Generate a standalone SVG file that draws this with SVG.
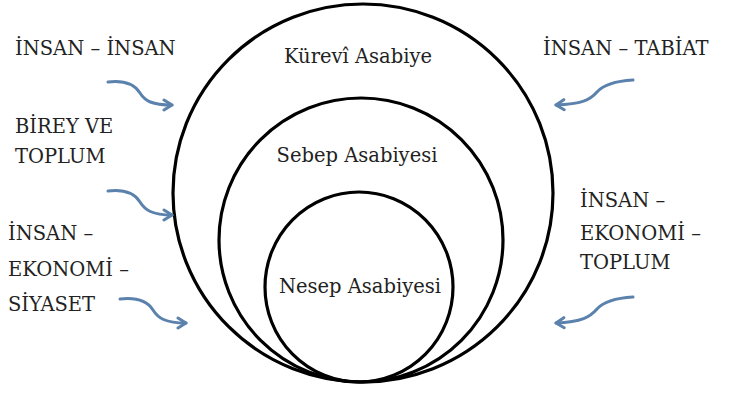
<svg xmlns="http://www.w3.org/2000/svg" width="734" height="394" viewBox="0 0 734 394">
<style>
  .t { font-family: "DejaVu Serif", serif; font-size: 19.5px; fill: #222; }
</style>
<defs>
  <marker id="head" markerUnits="userSpaceOnUse" markerWidth="14" markerHeight="14" refX="10" refY="7" orient="auto">
    <path d="M2,2 L10,7 L2,12" fill="none" stroke="#5b82ad" stroke-width="3" stroke-linecap="round" stroke-linejoin="round"/>
  </marker>
</defs>
<rect width="734" height="394" fill="#fff"/>

<g id="kurevi">
  <ellipse cx="363" cy="193" rx="190" ry="189" fill="none" stroke="#000" stroke-width="3.2"/>
  <text class="t" x="358" y="63" text-anchor="middle">Kürevî Asabiye</text>
</g>
<g id="sebep">
  <ellipse cx="361" cy="240" rx="142" ry="142" fill="none" stroke="#000" stroke-width="3.2"/>
  <text class="t" x="357" y="162" text-anchor="middle">Sebep Asabiyesi</text>
</g>
<g id="nesep">
  <ellipse cx="359" cy="287" rx="94" ry="95" fill="none" stroke="#000" stroke-width="3.2"/>
  <text class="t" x="360" y="293" text-anchor="middle">Nesep Asabiyesi</text>
</g>
<g id="insan-insan"><text class="t" x="15" y="55">İNSAN – İNSAN</text></g>
<g id="birey-toplum"><text class="t" x="15" y="133">BİREY VE</text><text class="t" x="15" y="163">TOPLUM</text></g>
<g id="insan-ekonomi-siyaset"><text class="t" x="8" y="240">İNSAN –</text><text class="t" x="8" y="276">EKONOMİ –</text><text class="t" x="8" y="311">SİYASET</text></g>
<g id="insan-tabiat"><text class="t" x="543" y="55">İNSAN – TABİAT</text></g>
<g id="insan-ekonomi-toplum"><text class="t" x="580" y="207">İNSAN –</text><text class="t" x="580" y="240">EKONOMİ –</text><text class="t" x="580" y="269">TOPLUM</text></g>

<g id="connectors" fill="none" stroke="#5b82ad" stroke-width="3" stroke-linecap="round">
  <path marker-end="url(#head)" d="M108,82 C125,80 135,85 140,93 S152,105 172,105"/>
  <path marker-end="url(#head)" d="M108,191 C125,189 135,194 140,202 S152,215 172,215"/>
  <path marker-end="url(#head)" d="M120,299 C138,297 148,302 153,310 S165,323 186,323"/>
  <path marker-end="url(#head)" d="M633,80 C616,81 604,84 597,92 S582,104 556,105"/>
  <path marker-end="url(#head)" d="M633,297 C616,298 604,301 597,309 S582,322 556,323"/>
</g>
</svg>
